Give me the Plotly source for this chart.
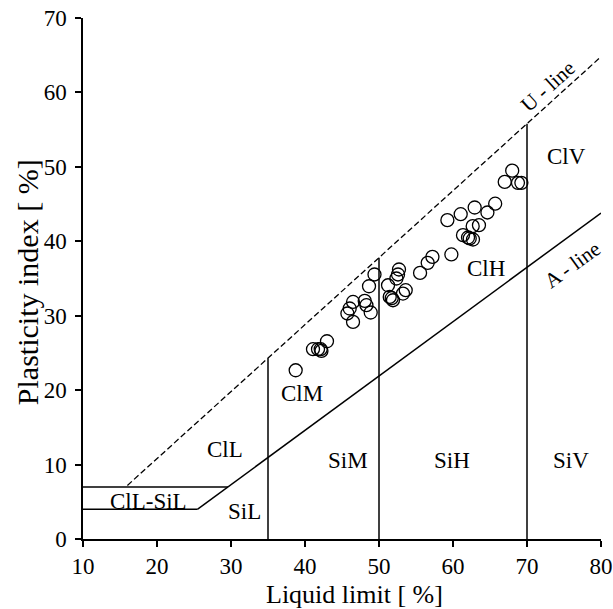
import plotly.graph_objects as go

# Measured samples: liquid limit (LL) and plasticity index (PI)
ll = [38.74, 41.08, 41.76, 42.12, 42.22, 42.97, 45.73, 46.04, 46.49, 46.49,
      48.07, 48.30, 48.88, 48.65, 49.39, 51.22, 52.70, 52.57, 52.35, 51.45,
      51.72, 51.89, 53.61, 53.24, 55.55, 56.58, 57.22, 59.78, 59.24, 61.04,
      62.93, 64.65, 65.70, 63.51, 62.66, 61.35, 62.03, 62.26, 62.70, 68.00,
      66.99, 68.78, 69.24]
pi = [22.67, 25.50, 25.50, 25.50, 25.27, 26.57, 30.30, 30.97, 31.85, 29.17,
      31.99, 31.41, 30.43, 33.96, 35.54, 34.09, 36.21, 35.54, 35.00, 32.53,
      32.35, 32.08, 33.43, 32.98, 35.75, 37.10, 37.90, 38.23, 42.84, 43.64,
      44.54, 43.87, 45.05, 42.16, 42.03, 40.82, 40.51, 40.38, 40.24, 49.49,
      47.98, 47.85, 47.85]

# Chart boundary lines
u_line_x = [16, 80]
u_line_y = [0.9 * (v - 8) for v in u_line_x]
a_line_x = [25.5, 80]
a_line_y = [0.73 * (v - 20) for v in a_line_x]
upper_band_x = [10, 29.6]
upper_band_y = [7, 7]
lower_band_x = [10, 25.5]
lower_band_y = [4, 4]
div_ll = [35, 50, 70]

# Region labels
zone_text = ["ClV", "ClH", "ClM", "ClL", "SiM", "SiH", "SiV", "SiL", "ClL-SiL"]
zone_x = [75.4, 64.4, 39.6, 29.15, 45.8, 59.9, 75.9, 31.85, 18.8]
zone_y = [51.4, 36.4, 19.5, 12.05, 10.6, 10.6, 10.6, 3.75, 5.1]

FONT = "Liberation Serif, Times New Roman, serif"
line_style = dict(color="black", width=1.5)

fig = go.Figure()
fig.add_trace(go.Scatter(x=u_line_x, y=u_line_y, mode="lines",
                         line=dict(color="black", width=1.3, dash="6px,3px")))
fig.add_trace(go.Scatter(x=a_line_x, y=a_line_y, mode="lines", line=line_style))
fig.add_trace(go.Scatter(x=upper_band_x, y=upper_band_y, mode="lines", line=line_style))
fig.add_trace(go.Scatter(x=lower_band_x, y=lower_band_y, mode="lines", line=line_style))
for d in div_ll:
    fig.add_trace(go.Scatter(x=[d, d], y=[0, 0.9 * (d - 8)], mode="lines", line=line_style))

fig.add_trace(go.Scatter(x=ll, y=pi, mode="markers",
                         marker=dict(symbol="circle-open", size=13, color="black",
                                     line=dict(width=1.3, color="black"))))

for t, x, y in zip(zone_text, zone_x, zone_y):
    fig.add_annotation(x=x, y=y, text=t, showarrow=False,
                       font=dict(family=FONT, size=23, color="black"))

fig.add_annotation(x=72.9, y=60.8, text="U - line", showarrow=False, textangle=-42,
                   font=dict(family=FONT, size=21, color="black"))
fig.add_annotation(x=76.1, y=36.8, text="A - line", showarrow=False, textangle=-36,
                   font=dict(family=FONT, size=21, color="black"))

# Axis titles
fig.add_annotation(xref="paper", yref="paper", x=0.525, y=0, yshift=-55,
                   text="Liquid limit [ %]", showarrow=False, yanchor="middle",
                   font=dict(family=FONT, size=26, color="black"))
fig.add_annotation(xref="paper", yref="paper", x=0, y=0.493, xshift=-56,
                   text="Plasticity index [ %]", showarrow=False, textangle=-90,
                   xanchor="center", font=dict(family=FONT, size=30, color="black"))

axis_common = dict(showline=True, linecolor="black", linewidth=1.5, ticks="outside",
                   ticklen=6, tickwidth=1.5, tickcolor="black", showgrid=False,
                   zeroline=False, mirror=False, automargin=False,
                   tickfont=dict(family=FONT, size=23, color="black"))

fig.update_layout(
    width=613, height=609,
    margin=dict(l=83, r=12, t=18, b=70),
    paper_bgcolor="white", plot_bgcolor="white",
    showlegend=False,
    xaxis=dict(range=[10, 80], tickvals=[10, 20, 30, 40, 50, 60, 70, 80], **axis_common),
    yaxis=dict(range=[0, 70], tickvals=[0, 10, 20, 30, 40, 50, 60, 70],
               ticklabelstandoff=4, **axis_common),
)

fig.write_html("out.html", config={"displayModeBar": False},
               post_script="document.body.style.margin='0';document.body.style.overflow='hidden';")
